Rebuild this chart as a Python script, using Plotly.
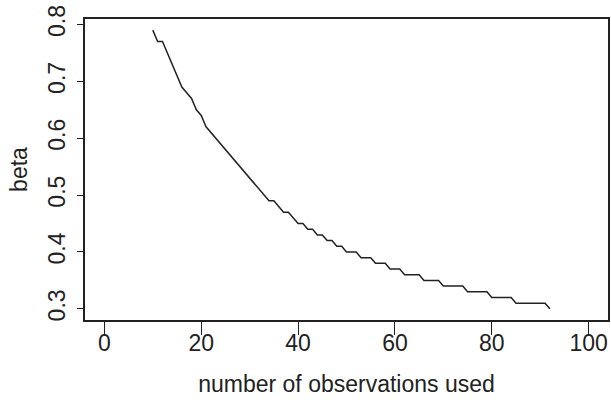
import plotly.graph_objects as go

n_obs = list(range(10, 93))
beta = [
    0.79, 0.77, 0.77, 0.75, 0.73, 0.71, 0.69, 0.68, 0.67, 0.65,   # 10-19
    0.64, 0.62, 0.61, 0.60, 0.59, 0.58, 0.57, 0.56, 0.55, 0.54,   # 20-29
    0.53, 0.52, 0.51, 0.50, 0.49, 0.49, 0.48, 0.47, 0.47, 0.46,   # 30-39
    0.45, 0.45, 0.44, 0.44, 0.43, 0.43, 0.42, 0.42, 0.41, 0.41,   # 40-49
    0.40, 0.40, 0.40, 0.39, 0.39, 0.39, 0.38, 0.38, 0.38, 0.37,   # 50-59
    0.37, 0.37, 0.36, 0.36, 0.36, 0.36, 0.35, 0.35, 0.35, 0.35,   # 60-69
    0.34, 0.34, 0.34, 0.34, 0.34, 0.33, 0.33, 0.33, 0.33, 0.33,   # 70-79
    0.32, 0.32, 0.32, 0.32, 0.32, 0.31, 0.31, 0.31, 0.31, 0.31,   # 80-89
    0.31, 0.31, 0.30,                                             # 90-92
]
x_ticks = [0, 20, 40, 60, 80, 100]
y_ticks = [0.3, 0.4, 0.5, 0.6, 0.7, 0.8]
x_title = "number of observations used"
y_title = "beta"

ink = "#222222"
font = dict(family="Liberation Sans, Arial, sans-serif", size=23, color=ink)

fig = go.Figure()
fig.add_trace(go.Scatter(x=n_obs, y=beta, mode="lines",
                         line=dict(color=ink, width=1.5), showlegend=False,
                         hoverinfo="skip"))

fig.update_layout(
    width=611, height=400,
    margin=dict(l=85, r=1, t=19, b=80),
    paper_bgcolor="white", plot_bgcolor="white",
    font=font,
    xaxis=dict(range=[-4, 104], tickvals=x_ticks, ticktext=[str(v) for v in x_ticks],
               showgrid=False, zeroline=False, showline=True, mirror=True,
               linecolor=ink, linewidth=1.5, ticks="outside", ticklen=13,
               tickwidth=1.3, tickcolor=ink, tickfont=font,
               ticklabelstandoff=-11,
               title=dict(text=x_title, font=font, standoff=21)),
    yaxis=dict(range=[0.2804, 0.8096], tickvals=y_ticks,
               ticktext=[f"{v:.1f}" for v in y_ticks], tickangle=-90,
               showgrid=False, zeroline=False, showline=True, mirror=True,
               linecolor=ink, linewidth=1.5, ticks="outside", ticklen=6,
               tickwidth=1.3, tickcolor=ink, tickfont=font,
               ticklabelstandoff=3,
               title=dict(text=y_title, font=font, standoff=10)),
)

fig.write_html("out.html")
